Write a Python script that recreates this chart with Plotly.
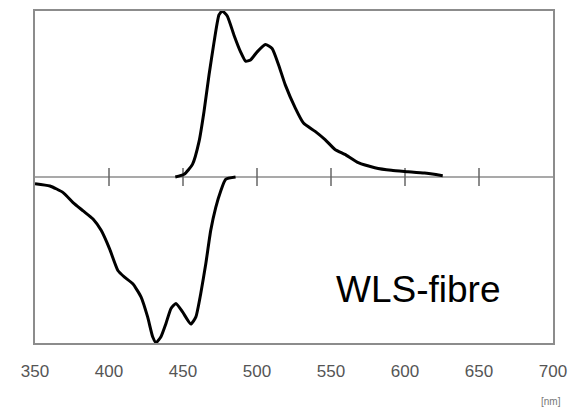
import plotly.graph_objects as go

# Emission spectrum (normalised, drawn above the baseline)
em_nm = [444.8, 450.8, 456.4, 460.9, 464.2, 467.6, 471.0, 474.3, 476.5, 479.9,
         484.4, 488.9, 492.3, 495.6, 500.1, 505.7, 510.2, 514.6, 519.1, 525.9,
         531.4, 539.3, 546.0, 552.7, 559.4, 568.4, 579.6, 590.8, 602.0, 613.2,
         625.5]
em_val = [0.0, 0.016, 0.076, 0.216, 0.395, 0.616, 0.814, 0.976, 1.0, 0.97,
          0.856, 0.754, 0.698, 0.705, 0.754, 0.798, 0.774, 0.675, 0.555, 0.415,
          0.325, 0.275, 0.225, 0.166, 0.136, 0.086, 0.056, 0.04, 0.032, 0.024,
          0.008]

# Absorption spectrum (normalised, drawn below the baseline)
ab_nm = [350.0, 360.1, 369.0, 375.7, 382.5, 389.2, 394.8, 400.4, 406.0, 410.5,
         416.1, 421.7, 426.1, 429.5, 431.8, 435.1, 438.5, 441.9, 445.2, 449.7,
         455.3, 458.7, 462.0, 465.4, 468.7, 472.1, 475.5, 478.8, 485.5]
ab_val = [0.04, 0.054, 0.094, 0.154, 0.204, 0.253, 0.323, 0.433, 0.563, 0.603,
          0.643, 0.723, 0.843, 0.962, 0.998, 0.962, 0.882, 0.792, 0.762, 0.813,
          0.886, 0.843, 0.702, 0.523, 0.323, 0.184, 0.084, 0.014, 0.0]

tick_nm = [350, 400, 450, 500, 550, 600, 650, 700]
tick_text = ["350", "400", "450", "500", "550", "600", "650", "700"]
baseline_ticks = [400, 450, 500, 550, 600, 650]

frame = "#8c8c8c"

fig = go.Figure()

# baseline with crossing tick marks
fig.add_trace(go.Scatter(
    x=[350, 700], y=[0, 0], mode="lines",
    line=dict(color=frame, width=1.5), hoverinfo="skip", showlegend=False))
fig.add_trace(go.Scatter(
    x=baseline_ticks, y=[0] * len(baseline_ticks), mode="markers",
    marker=dict(symbol="line-ns", size=13, line=dict(color="#666666", width=1.5)),
    hoverinfo="skip", showlegend=False))

fig.add_trace(go.Scatter(
    x=em_nm, y=em_val, mode="lines",
    line=dict(color="black", width=3, shape="spline", smoothing=0.5),
    showlegend=False))
fig.add_trace(go.Scatter(
    x=ab_nm, y=[-v for v in ab_val], mode="lines",
    line=dict(color="black", width=3, shape="spline", smoothing=0.5),
    showlegend=False))

fig.add_annotation(
    x=608.5, y=-0.677, xref="x", yref="y", text="WLS-fibre", showarrow=False,
    font=dict(family="Liberation Sans, Arial", size=37, color="black"),
    xanchor="center", yanchor="middle")
fig.add_annotation(
    x=698.5, y=-0.177, xref="x", yref="paper", text="[nm]", showarrow=False,
    font=dict(family="Liberation Sans, Arial", size=10, color="#777777"),
    xanchor="center", yanchor="middle")

fig.update_layout(
    width=576, height=411,
    margin=dict(l=35, r=20, t=9, b=68),
    paper_bgcolor="white", plot_bgcolor="white",
    xaxis=dict(
        range=[350, 700], tickvals=tick_nm, ticktext=tick_text,
        showgrid=False, zeroline=False, ticks="",
        showline=True, mirror=True, linecolor=frame, linewidth=1.5,
        ticklabelstandoff=12,
        tickfont=dict(family="Liberation Sans, Arial", size=17, color="#555555")),
    yaxis=dict(
        range=[-1.0, 1.0], showticklabels=False, showgrid=False, zeroline=False,
        ticks="", showline=True, mirror=True, linecolor=frame, linewidth=1.5),
)

fig.write_html("out.html")
